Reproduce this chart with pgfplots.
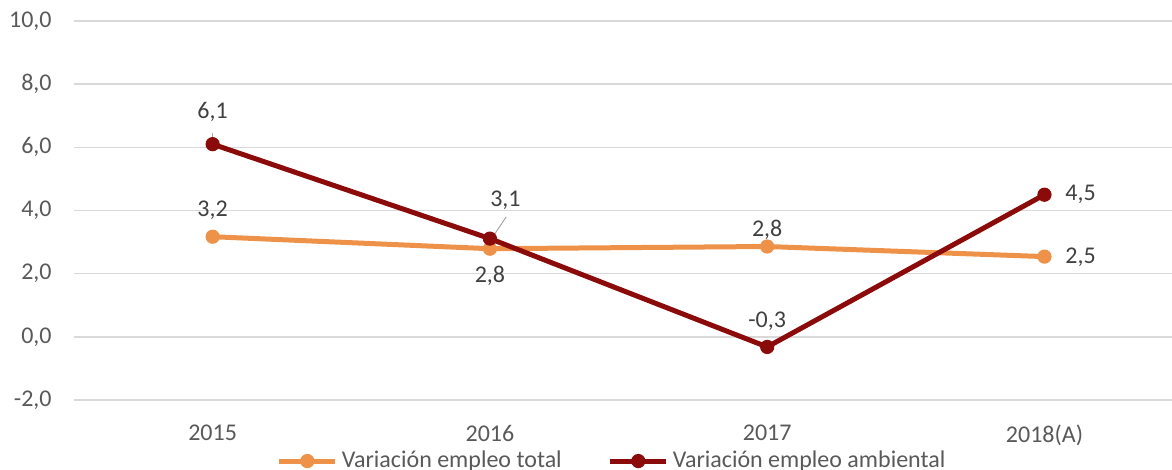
\documentclass[border=0pt]{standalone}
\usepackage{pgfplots}
\pgfplotsset{compat=1.18}
\usepackage{fontspec}
\setmainfont{Carlito}
\definecolor{tot}{RGB}{237,146,72}
\definecolor{amb}{RGB}{139,10,10}
\definecolor{gridc}{RGB}{217,217,217}
\definecolor{lbl}{RGB}{89,89,89}
\definecolor{dlbl}{RGB}{64,64,64}
\begin{document}
\begin{tikzpicture}[x=1pt,y=1pt]
\clip (0,0) rectangle (586,235);
\begin{axis}[
    at={(37pt,35pt)}, anchor=south west,
    scale only axis, width=549pt, height=189.5pt,
    xmin=-0.5, xmax=3.46, ymin=-2, ymax=10,
    xtick={0,1,2,3}, xticklabels={2015,2016,2017,2018(A)},
    ytick={-2,0,2,4,6,8,10},
    yticklabels={{-2,0},{0,0},{2,0},{4,0},{6,0},{8,0},{10,0}},
    ymajorgrids, grid style={gridc, line width=0.75pt},
    axis line style={draw=none}, major tick length=0pt,
    tick label style={font=\fontsize{12}{14}\selectfont, text=lbl, inner sep=0pt},
    yticklabel style={xshift=-11pt},
    xticklabel style={yshift=-12.5pt},
    clip=false,
    legend columns=2,
    legend style={at={(0.491,-0.113)}, anchor=north, draw=none, fill=none,
        font=\fontsize{12}{14}\selectfont, text=lbl,
        /tikz/every even column/.append style={column sep=21pt}},
    legend image code/.code={
        \draw[#1, mark=none] (0pt,0pt) -- (28pt,0pt);
        \draw[#1, only marks] plot coordinates {(14pt,0pt)};
    },
]
\addplot[tot, line width=2.5pt, mark=*, mark size=3.3pt, mark options={line width=0.5pt}] coordinates {
    (0,3.17) (1,2.79) (2,2.86) (3,2.54)
};
\addlegendentry{Variación empleo total}
\addplot[amb, line width=2.5pt, mark=*, mark size=3.3pt, mark options={line width=0.5pt}] coordinates {
    (0,6.1) (1,3.11) (2,-0.32) (3,4.5)
};
\addlegendentry{Variación empleo ambiental}

\draw[gray!70, line width=0.5pt] (axis cs:0,6.46) -- (axis cs:0,6.16);
\draw[gray!70, line width=0.5pt] (axis cs:1.059,3.80) -- (axis cs:1.013,3.20);

\begin{scope}[every node/.style={font=\fontsize{12}{14}\selectfont, text=dlbl}]
\node at (axis cs:0,4.02) {3,2};
\node at (axis cs:1,1.93) {2,8};
\node at (axis cs:2,3.38) {2,8};
\node at (axis cs:3.13,2.53) {2,5};
\node at (axis cs:0,7.12) {6,1};
\node at (axis cs:1.056,4.31) {3,1};
\node at (axis cs:2,0.49) {-0,3};
\node at (axis cs:3.13,4.5) {4,5};
\end{scope}
\end{axis}
\end{tikzpicture}
\end{document}
